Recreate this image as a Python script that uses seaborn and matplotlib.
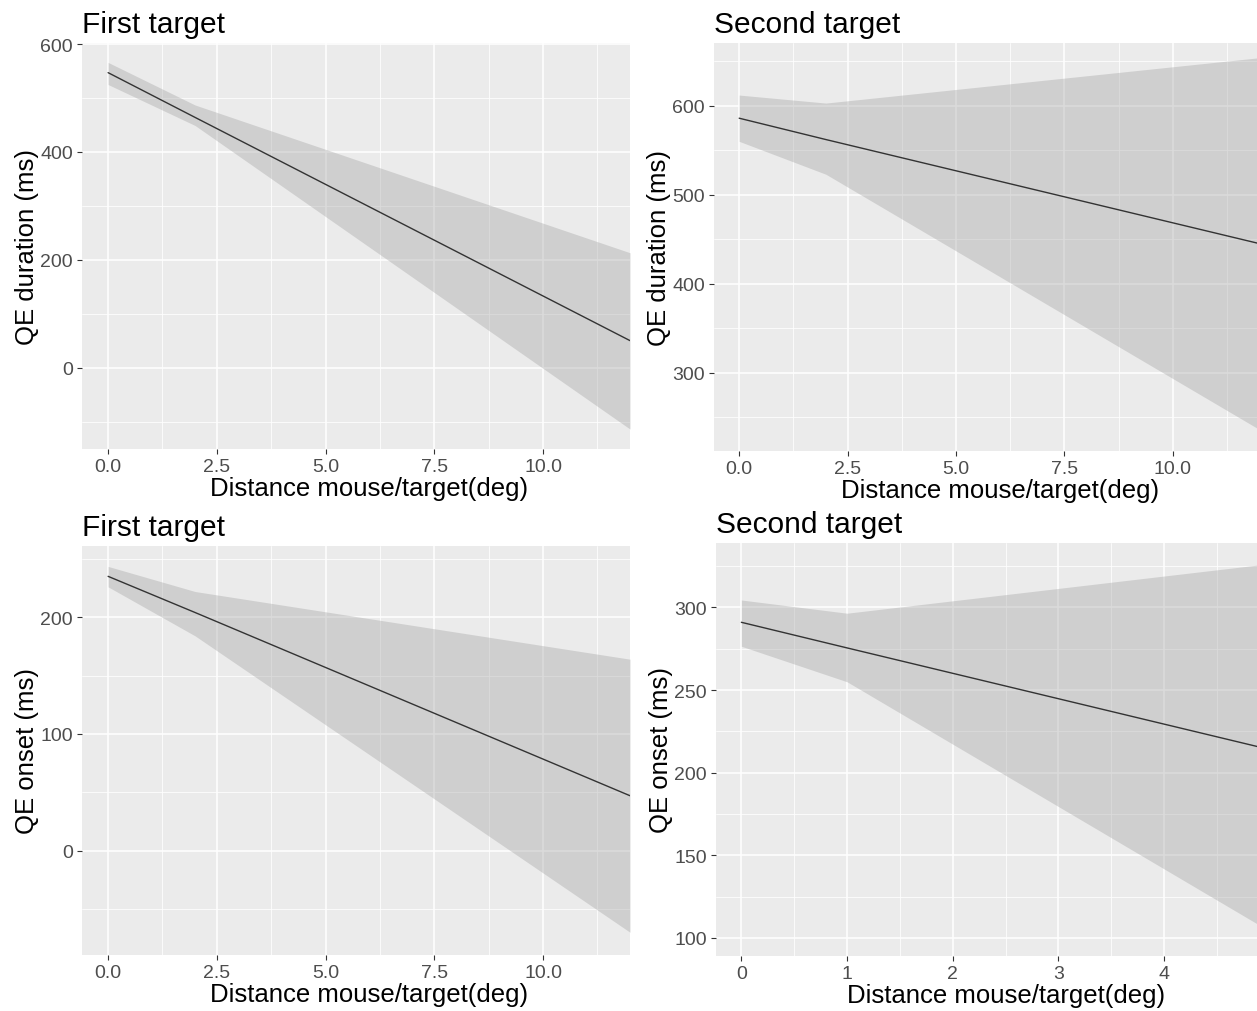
import numpy as np
import pandas as pd
import matplotlib
matplotlib.use("Agg")
import matplotlib.pyplot as plt
import seaborn as sns
from matplotlib.ticker import FixedLocator

# Fitted values and confidence band
dist_long = [0, 2, 12]
dist_short = [0, 1, 5]

dur_first_fit = [547, 464, 50]
dur_first_low = [525, 449, -114]
dur_first_high = [566, 487, 213]

dur_second_fit = [586, 562, 445]
dur_second_low = [560, 523, 236]
dur_second_high = [612, 603, 654]

onset_first_fit = [235, 204, 47]
onset_first_low = [226, 184, -70]
onset_first_high = [243.5, 222, 164]

onset_second_fit = [291, 275.5, 214]
onset_second_low = [276.5, 255, 104]
onset_second_high = [304.5, 296.5, 326.5]

x_label = "Distance mouse/target(deg)"

sns.set_theme(style="darkgrid")
plt.rcParams["font.family"] = ["Liberation Sans", "DejaVu Sans"]
plt.rcParams["axes.facecolor"] = "#EBEBEB"
plt.rcParams["grid.color"] = "white"

W, H = 1257, 1012
fig = plt.figure(figsize=(W / 100, H / 100), dpi=100)


def rect(l, t, r, b):
    return [l / W, 1 - b / H, (r - l) / W, (b - t) / H]


def panel(box, x, fit, low, high, title, ylab, xlim, full_right, ylim,
          xmaj, xmin, xfmt, ymaj, ymin):
    ax = fig.add_axes(rect(*box))
    df = pd.DataFrame({"x": x, "fit": fit})
    ax.fill_between(x, low, high, color="#A6A6A6", alpha=0.4, linewidth=0, zorder=2)
    sns.lineplot(data=df, x="x", y="fit", ax=ax, color="#333333", linewidth=1.0, zorder=3)
    ax.set_xlim(*xlim)
    ax.set_ylim(*ylim)
    ax.xaxis.set_major_locator(FixedLocator(xmaj))
    ax.xaxis.set_minor_locator(FixedLocator(xmin))
    ax.yaxis.set_major_locator(FixedLocator(ymaj))
    ax.yaxis.set_minor_locator(FixedLocator(ymin))
    ax.set_xticklabels([xfmt.format(v) for v in xmaj])
    ax.set_yticklabels([str(v) for v in ymaj])
    ax.grid(which="major", color="white", linewidth=1.1, zorder=0)
    ax.grid(which="minor", color="white", linewidth=0.55, zorder=0)
    ax.set_axisbelow(True)
    for s in ax.spines.values():
        s.set_visible(False)
    ax.tick_params(which="major", length=3.5, width=0.8, color="#333333",
                   labelsize=14, labelcolor="#4D4D4D", pad=3, bottom=True, left=True)
    ax.tick_params(which="minor", length=0)
    # the panel is cut at the right edge, the label stays centred on the full panel
    label_x = ((xlim[0] + full_right) / 2 - xlim[0]) / (xlim[1] - xlim[0])
    ax.set_xlabel(x_label, fontsize=18.5, color="black", labelpad=1, x=label_x)
    ax.set_ylabel(ylab, fontsize=18.5, color="black", labelpad=1)
    ax.set_title(title, loc="left", fontsize=21.5, color="black", pad=8)
    return ax


xt_long = [0, 2.5, 5, 7.5, 10]
xm_long = [1.25, 3.75, 6.25, 8.75, 11.25]

panel((82, 44, 630, 450), dist_long, dur_first_fit, dur_first_low, dur_first_high,
      "First target", "QE duration (ms)", (-0.6, 12.0), 12.6, (-151, 602),
      xt_long, xm_long, "{:.1f}", [0, 200, 400, 600], [-100, 100, 300, 500])

panel((714, 44, 1257, 452), dist_long, dur_second_fit, dur_second_low, dur_second_high,
      "Second target", "QE duration (ms)", (-0.58, 11.94), 12.6, (212, 670.5),
      xt_long, xm_long, "{:.1f}", [300, 400, 500, 600], [250, 350, 450, 550, 650])

panel((82, 547, 630, 956), dist_long, onset_first_fit, onset_first_low, onset_first_high,
      "First target", "QE onset (ms)", (-0.6, 12.0), 12.6, (-89.5, 261),
      xt_long, xm_long, "{:.1f}", [0, 100, 200], [-50, 50, 150, 250])

panel((716, 544, 1257, 957), dist_short, onset_second_fit, onset_second_low, onset_second_high,
      "Second target", "QE onset (ms)", (-0.24, 4.88), 5.25, (89, 339),
      [0, 1, 2, 3, 4], [0.5, 1.5, 2.5, 3.5, 4.5], "{:d}",
      [100, 150, 200, 250, 300], [125, 175, 225, 275, 325])

fig.savefig("out.png", dpi=100, facecolor="white")
